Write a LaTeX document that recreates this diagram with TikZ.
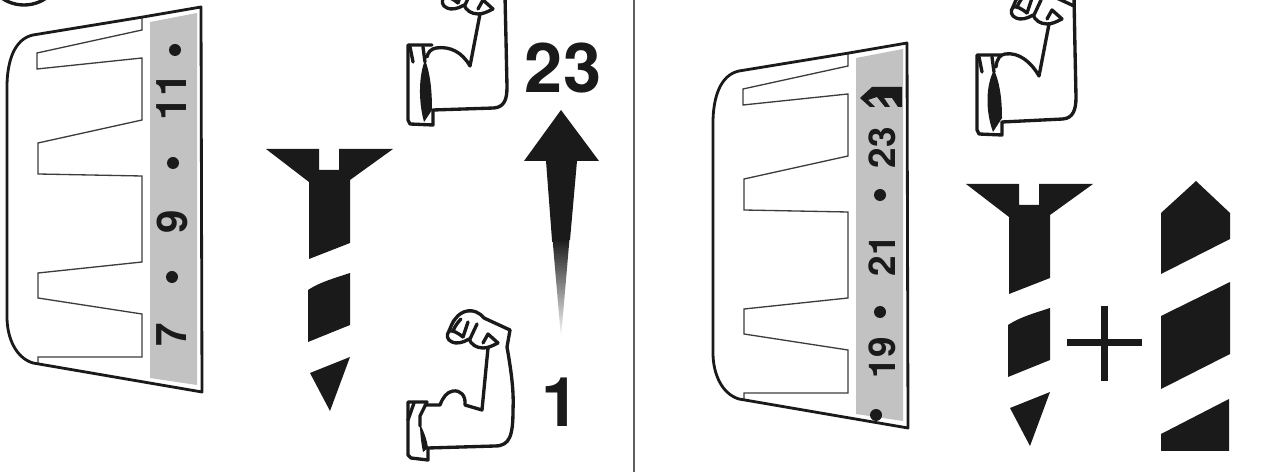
\documentclass[tikz,border=0pt]{standalone}
\usepackage{fontspec}
\setmainfont{TeX Gyre Heros}
\definecolor{inkblack}{HTML}{1A1A1A}
\definecolor{bladegray}{HTML}{C2C2C2}
\newcommand{\Blade}{
  \fill[bladegray] (150,22) -- (197,13) -- (197,385) -- (150,378) -- cycle;
  \draw[bladeline] (142,18) -- (142,30) -- (37,53) -- (37,69) -- (142,58) -- (142,120)
    -- (38,143) -- (38,174) -- (142,176) -- (142,262) -- (38,273) -- (38,298)
    -- (142,314) -- (142,357) -- (38,357) -- (38,363);
  \draw[bladeedge] (201,7) -- (143,17) -- (33,35) .. controls (14,39) and (7,62) .. (7,87)
    -- (7,317) .. controls (7,338) and (16,358) .. (33,363) -- (202,392) -- cycle;
}
\newcommand{\Screw}{
  \fill[inkblack] (266,149) -- (319,149) -- (319,170) -- (339,170) -- (339,149) -- (393,149)
    -- (350,180) -- (350,243) -- (309,259) -- (309,182) -- cycle;
  \fill[inkblack] (308,290) .. controls (320,282) and (335,278) .. (350,273)
    -- (350,325) -- (308,342) -- cycle;
  \fill[inkblack] (310,373) -- (350,357) -- (330,411) -- cycle;
}
% fist is drawn where the lower arm has it
\newcommand{\Fist}{
  \draw[armline] (498,343) .. controls (492,346) and (488,348) .. (483,348)
    .. controls (476,348) and (471,344) .. (469,339)
    .. controls (463,343) and (456,344) .. (452,342)
    .. controls (447,340) and (446,335) .. (449,331)
    .. controls (451,327) and (452,322) .. (456,318)
    .. controls (461,311) and (474,306) .. (484,318) -- (510,330);
  \draw[armline] (449,331) .. controls (453,330) and (458,333) .. (463,337);
  \draw[armline] (463,337) -- (468,322);
  \draw[armline] (470,339) -- (477,324);
  \draw[armline] (453,331) .. controls (455,326) and (458,322) .. (461,319);
  \draw[armline] (498,343) -- (488,334) -- (483,343);
}
\begin{document}
\begin{tikzpicture}[x=0.02cm,y=-0.02cm,
  bladeline/.style={draw=inkblack!85,line width=0.75pt,line join=miter},
  bladeedge/.style={draw=inkblack,line width=1.6pt,line join=round},
  armline/.style={draw=inkblack,line width=1.9pt,line join=round,line cap=round},
  numleft/.style={rotate=90,font=\bfseries\fontsize{24}{24}\selectfont,text=inkblack,inner sep=0pt},
  numright/.style={rotate=90,font=\bfseries\fontsize{21}{21}\selectfont,text=inkblack,inner sep=0pt},
  numbig/.style={font=\bfseries\fontsize{39}{39}\selectfont,text=inkblack,inner sep=0pt}]
\clip (0,0) rectangle (1264,472);

% Corner circle
\draw[armline] (24,-34) circle (39);

% Left blade
\Blade
\foreach \y/\ux in {50/175,163/173,277/172} {
  \fill[inkblack] (\ux,\y) circle (6);
}
\node[numleft] (numeleven) at (172,97) {11};
\node[numleft] (numnine) at (172,222) {9};
\node[numleft] (numseven) at (172,335) {7};

% Left screw
\Screw

% Upper left arm
\begin{scope}[shift={(-5,-334)}]
  \Fist
\end{scope}
\draw[armline] (505,-4) -- (506,40) -- (507,87) .. controls (507,100) and (504,107) .. (494,108) -- (433,110);
\draw[armline] (480,14) -- (470,66) .. controls (462,52) and (450,46) .. (436,48) .. controls (431,49) and (428,52) .. (427,57);
\draw[armline] (432,45) -- (408,45) -- (408,120) -- (410,124) -- (433,125) -- (433,110);
\draw[armline] (410,47) -- (413,62);
\draw[armline] (423,47) -- (425,62);
\fill[inkblack] (425,60) .. controls (419,75) and (418,100) .. (424,122) -- (432,110) .. controls (432,95) and (431,75) .. (425,60) -- cycle;

% Lower arm
\Fist
\draw[armline] (510,330) -- (507,347) .. controls (511,370) and (514,390) .. (513,410) .. controls (513,435) and (510,446) .. (495,446) -- (428,448);
\draw[armline] (488,348) -- (482,410) -- (465,405) .. controls (466,395) and (460,390) .. (453,391) .. controls (447,392) and (443,397) .. (440,405) -- (425,405);
\draw[armline] (427,402) -- (408,402) -- (408,455) -- (411,458) -- (428,460) -- (428,448);
\draw[armline] (414,403) -- (408,420);
\draw[armline] (427,402) -- (420,416) -- (420,426);
\fill[inkblack] (420,424) .. controls (424,432) and (427,440) .. (428,448) -- (423,452) .. controls (421,442) and (420,432) .. (420,424) -- cycle;

% Growth arrow with its numbers
\node[numbig] (numtop) at (563,68) {23};
\fill[inkblack] (561,110) -- (599,161) -- (577,161) -- (570,240) -- (552,240) -- (546,161) -- (524,161) -- cycle;
\shade[top color=inkblack,middle color=gray!85,bottom color=white] (552.5,239) -- (569.5,239) -- (561,338) -- cycle;
\node[numbig] (numbottom) at (561,402) {1};

% Divider
\draw[inkblack!70,line width=1.1pt] (634,0) -- (634,472);

% Right blade
\begin{scope}[shift={(706,36)}]
  \Blade
\end{scope}
\fill[inkblack] (902,87) -- (872,87) -- (860,98) -- (870,107) -- (875,107) -- (868,100) -- (877,97) -- (885,107) -- (890,107) -- (884,98) -- (892,98) -- (898,107) -- (902,107) -- cycle;
\node[numright] (numtwentythree) at (882,148) {23};
\node[numright] (numtwentyone) at (882,256) {21};
\node[numright] (numnineteen) at (882,358) {19};
\foreach \y/\ux in {195/880,312/880,415/876} {
  \fill[inkblack] (\ux,\y) circle (6);
}

% Upper right arm
\begin{scope}[shift={(564,-324)}]
  \Fist
\end{scope}
\begin{scope}[shift={(569,10)}]
  \draw[armline] (505,-14) -- (506,40) -- (507,87) .. controls (507,100) and (504,108) .. (494,109) -- (433,112);
  \draw[armline] (480,14) -- (470,66) .. controls (462,52) and (450,42) .. (436,44) .. controls (431,45) and (428,48) .. (427,57);
  \draw[armline] (432,45) -- (408,45) -- (408,120) -- (410,124) -- (433,125) -- (433,112);
  \draw[armline] (410,47) -- (413,62);
  \draw[armline] (423,47) -- (425,62);
  \fill[inkblack] (425,60) .. controls (417,75) and (416,100) .. (424,122) -- (433,108) .. controls (433,95) and (432,75) .. (425,60) -- cycle;
\end{scope}

% Right screw and the drill
\begin{scope}[shift={(700,35)}]
  \Screw
\end{scope}
\fill[inkblack] (1100.5,306) rectangle (1107.5,381);
\fill[inkblack] (1067,339.5) rectangle (1142,346.5);
\fill[inkblack] (1161,213) -- (1196,181) -- (1230,213) -- (1230,239) -- (1161,274) -- cycle;
\fill[inkblack] (1161,316) -- (1230,282) -- (1230,354) -- (1161,389) -- cycle;
\fill[inkblack] (1161,434) -- (1229,399) -- (1229,451) -- (1161,451) -- cycle;
\end{tikzpicture}
\end{document}
